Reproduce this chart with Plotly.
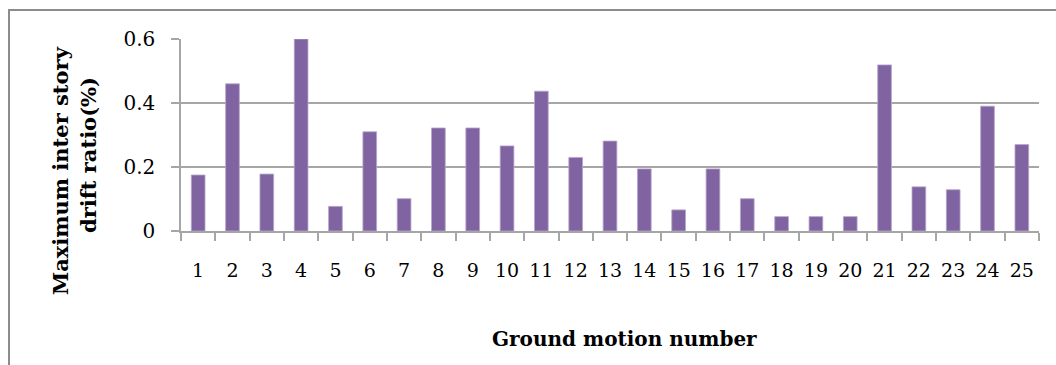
import plotly.graph_objects as go

# Ground motion records and peak inter-story drift ratio (%) for each
motion_numbers = [str(i) for i in range(1, 26)]
drift_ratio = [0.175, 0.46, 0.178, 0.6, 0.077, 0.31, 0.101, 0.322, 0.322, 0.266,
               0.437, 0.23, 0.281, 0.194, 0.066, 0.194, 0.101, 0.045, 0.045, 0.045,
               0.519, 0.138, 0.129, 0.39, 0.27]
y_ticks = [0, 0.2, 0.4, 0.6]
y_tick_labels = ["0", "0.2", "0.4", "0.6"]

W, H = 1056, 365
ML, MR, MT, MB = 181, 17, 39, 134
plot_w = W - ML - MR
plot_h = H - MT - MB

def px_to_paper_x(px):
    return (px - ML) / plot_w

def px_to_paper_y(py):
    return 1 - (py - MT) / plot_h

GRID = "#a6a6a6"
FONT = "DejaVu Serif"

fig = go.Figure(
    go.Bar(
        x=motion_numbers,
        y=drift_ratio,
        marker=dict(color="#8064a2", line=dict(width=0.8, color="#b7a6cc")),
        width=0.4,
        hoverinfo="x+y",
    )
)

fig.update_layout(
    width=W,
    height=H,
    margin=dict(l=ML, r=MR, t=MT, b=MB, pad=0),
    paper_bgcolor="white",
    plot_bgcolor="white",
    showlegend=False,
    font=dict(family=FONT, size=20, color="black"),
    xaxis=dict(
        type="category",
        showline=True,
        linecolor=GRID,
        linewidth=1.5,
        ticks="outside",
        tickson="boundaries",
        ticklen=8,
        tickwidth=1.5,
        tickcolor=GRID,
        showgrid=False,
        tickangle=0,
        ticklabelstandoff=21,
        tickfont=dict(family=FONT, size=19),
    ),
    yaxis=dict(
        range=[0, 0.6],
        tickvals=y_ticks,
        ticktext=y_tick_labels,
        showline=True,
        linecolor=GRID,
        linewidth=1.5,
        ticks="outside",
        ticklen=8,
        tickwidth=1.5,
        tickcolor=GRID,
        showgrid=True,
        gridcolor=GRID,
        gridwidth=1.5,
        zeroline=False,
        ticklabelstandoff=12,
        tickfont=dict(family=FONT, size=20),
    ),
)

# Axis titles
fig.add_annotation(
    text="<b>Ground motion number</b>",
    x=px_to_paper_x(624), y=px_to_paper_y(339),
    xref="paper", yref="paper", showarrow=False,
    xanchor="center", yanchor="middle",
    font=dict(family=FONT, size=20),
)
fig.add_annotation(
    text="<b>Maximum inter story</b>",
    x=px_to_paper_x(60), y=px_to_paper_y(171),
    xref="paper", yref="paper", showarrow=False, textangle=-90,
    xanchor="center", yanchor="middle",
    font=dict(family=FONT, size=21),
)
fig.add_annotation(
    text="<b>drift ratio(%)</b>",
    x=px_to_paper_x(88), y=px_to_paper_y(155),
    xref="paper", yref="paper", showarrow=False, textangle=-90,
    xanchor="center", yanchor="middle",
    font=dict(family=FONT, size=21),
)

# Outer chart frame
fig.add_shape(
    type="rect", xref="paper", yref="paper",
    x0=px_to_paper_x(9), x1=px_to_paper_x(W + 10),
    y0=px_to_paper_y(H + 10), y1=px_to_paper_y(10),
    line=dict(color="#8c8c8c", width=2), fillcolor="rgba(0,0,0,0)",
    layer="below",
)

fig.write_html("out.html")
